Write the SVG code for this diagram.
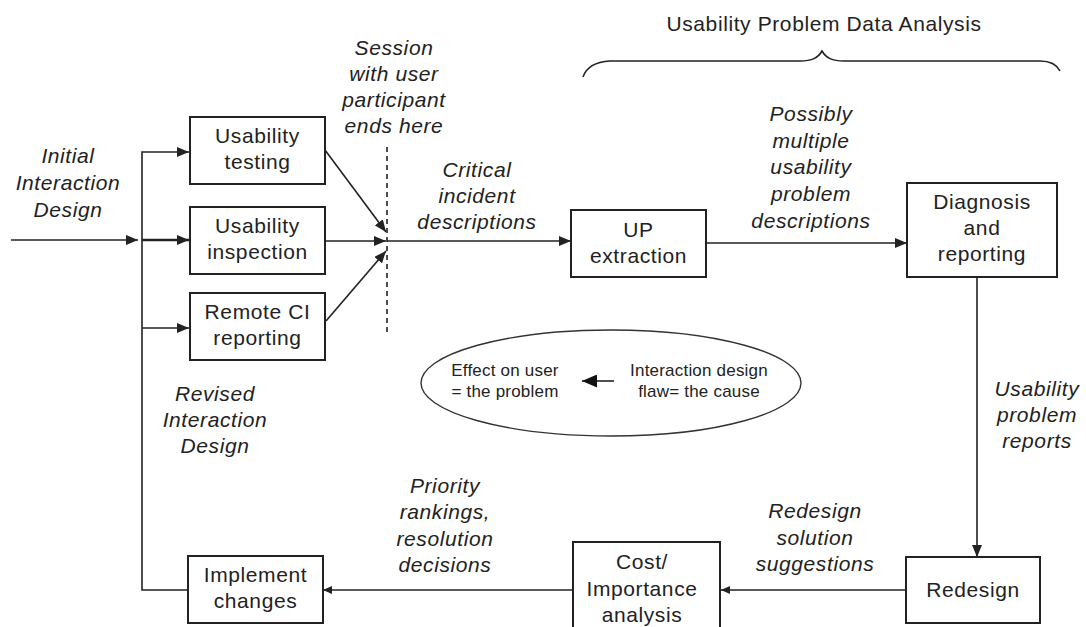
<svg xmlns="http://www.w3.org/2000/svg" width="1086" height="627" viewBox="0 0 1086 627">
  <style>
    .box { fill: #ffffff; stroke: #222222; stroke-width: 2; }
    .ln { fill: none; stroke: #222222; stroke-width: 1.6; }
    .thick { stroke-width: 2.6; }
    .dash { fill: none; stroke: #222222; stroke-width: 1.6; stroke-dasharray: 5 4; }
    .t { font-family: "Liberation Sans", Arial, sans-serif; font-size: 21px; fill: #222222; text-anchor: middle; letter-spacing: 0.6px; }
    .i { font-style: italic; }
    .s { font-size: 17px; letter-spacing: 0.2px; }
  </style>
  <defs>
    <marker id="ah" markerUnits="userSpaceOnUse" markerWidth="13" markerHeight="10" refX="12" refY="5" orient="auto">
      <path d="M0,0 L12,5 L0,10 Z" fill="#222222"/>
    </marker>
    <marker id="ahs" markerUnits="userSpaceOnUse" markerWidth="10" markerHeight="8" refX="9" refY="4" orient="auto">
      <path d="M0,0 L9,4 L0,8 Z" fill="#222222"/>
    </marker>
    <marker id="ahb" markerUnits="userSpaceOnUse" markerWidth="16" markerHeight="13" refX="15" refY="6.5" orient="auto">
      <path d="M0,0 L15,6.5 L0,13 Z" fill="#111111"/>
    </marker>
  </defs>

  <rect width="1086" height="627" fill="#ffffff"/>

  <!-- connectors -->
  <g id="connectors">
    <!-- incoming design and the feedback trunk -->
    <line class="ln" x1="11" y1="240" x2="138" y2="240" marker-end="url(#ah)"/>
    <path class="ln" d="M188,590 L142,590 L142,152 L189,152" marker-end="url(#ah)"/>
    <line class="ln thick" x1="142" y1="240" x2="189" y2="240" marker-end="url(#ah)"/>
    <line class="ln" x1="142" y1="328" x2="189" y2="328" marker-end="url(#ah)"/>
    <!-- evaluation methods converge at session end -->
    <line class="ln" x1="325" y1="150" x2="386" y2="232" marker-end="url(#ah)"/>
    <line class="ln" x1="325" y1="241" x2="386" y2="241" marker-end="url(#ah)"/>
    <line class="ln" x1="326" y1="321" x2="386" y2="251" marker-end="url(#ah)"/>
    <line class="dash" x1="387" y1="147" x2="387" y2="332"/>
    <!-- main analysis flow -->
    <line class="ln" x1="387" y1="241" x2="571" y2="241" marker-end="url(#ah)"/>
    <line class="ln" x1="706" y1="243" x2="907" y2="243" marker-end="url(#ah)"/>
    <line class="ln" x1="977" y1="277" x2="977" y2="557" marker-end="url(#ah)"/>
    <line class="ln" x1="906" y1="590" x2="721" y2="590" marker-end="url(#ahs)"/>
    <line class="ln" x1="573" y1="590" x2="323" y2="590" marker-end="url(#ahs)"/>
  </g>

  <!-- phase brace -->
  <g id="analysis-brace">
    <text class="t" x="824" y="31">Usability Problem Data Analysis</text>
    <path class="ln" d="M583,77 C586,68 594,62 610,61 L800,61 C812,61 818,58 822,51 C826,58 832,61 844,61 L1040,61 C1050,61 1057,65 1060,71"/>
  </g>

  <g id="usability-testing">
    <rect class="box" x="190" y="117" width="135" height="67"/>
    <text class="t" x="257.5" y="143">Usability</text>
    <text class="t" x="257.5" y="169">testing</text>
  </g>

  <g id="usability-inspection">
    <rect class="box" x="190" y="207" width="135" height="67"/>
    <text class="t" x="257.5" y="233">Usability</text>
    <text class="t" x="257.5" y="259">inspection</text>
  </g>

  <g id="remote-ci">
    <rect class="box" x="190" y="293" width="135" height="67"/>
    <text class="t" x="257.5" y="319">Remote CI</text>
    <text class="t" x="257.5" y="345">reporting</text>
  </g>

  <g id="up-extraction">
    <rect class="box" x="571" y="210" width="135" height="67"/>
    <text class="t" x="638.5" y="237">UP</text>
    <text class="t" x="638.5" y="263">extraction</text>
  </g>

  <g id="diagnosis">
    <rect class="box" x="907" y="183" width="150" height="94"/>
    <text class="t" x="982" y="209">Diagnosis</text>
    <text class="t" x="982" y="235">and</text>
    <text class="t" x="982" y="261">reporting</text>
  </g>

  <g id="redesign">
    <rect class="box" x="906" y="557" width="134" height="66"/>
    <text class="t" x="973" y="597">Redesign</text>
  </g>

  <g id="cost-importance">
    <rect class="box" x="573" y="542" width="147" height="90"/>
    <text class="t" x="642" y="569">Cost/</text>
    <text class="t" x="642" y="596">Importance</text>
    <text class="t" x="642" y="622">analysis</text>
  </g>

  <g id="implement-changes">
    <rect class="box" x="188" y="556" width="135" height="67"/>
    <text class="t" x="255.5" y="582">Implement</text>
    <text class="t" x="255.5" y="608">changes</text>
  </g>

  <!-- cause / effect note -->
  <g id="cause-effect">
    <ellipse cx="611" cy="383" rx="190" ry="53" fill="none" stroke="#333333" stroke-width="1.4"/>
    <text class="t s" x="505" y="376">Effect on user</text>
    <text class="t s" x="505" y="397">= the problem</text>
    <line class="ln" x1="614" y1="381" x2="582" y2="381" stroke-width="2" marker-end="url(#ahb)"/>
    <text class="t s" x="699" y="376">Interaction design</text>
    <text class="t s" x="699" y="397">flaw= the cause</text>
  </g>

  <!-- flow labels -->
  <g id="labels">
    <text class="t i" x="68" y="163">Initial</text>
    <text class="t i" x="68" y="190">Interaction</text>
    <text class="t i" x="68" y="217">Design</text>

    <text class="t i" x="394" y="55">Session</text>
    <text class="t i" x="394" y="81">with user</text>
    <text class="t i" x="394" y="107">participant</text>
    <text class="t i" x="394" y="133">ends here</text>

    <text class="t i" x="477" y="177">Critical</text>
    <text class="t i" x="477" y="203">incident</text>
    <text class="t i" x="477" y="229">descriptions</text>

    <text class="t i" x="811" y="121">Possibly</text>
    <text class="t i" x="811" y="148">multiple</text>
    <text class="t i" x="811" y="174">usability</text>
    <text class="t i" x="811" y="201">problem</text>
    <text class="t i" x="811" y="228">descriptions</text>

    <text class="t i" x="1037" y="396">Usability</text>
    <text class="t i" x="1037" y="422">problem</text>
    <text class="t i" x="1037" y="448">reports</text>

    <text class="t i" x="815" y="518">Redesign</text>
    <text class="t i" x="815" y="545">solution</text>
    <text class="t i" x="815" y="571">suggestions</text>

    <text class="t i" x="445" y="493">Priority</text>
    <text class="t i" x="445" y="519">rankings,</text>
    <text class="t i" x="445" y="546">resolution</text>
    <text class="t i" x="445" y="572">decisions</text>

    <text class="t i" x="215" y="401">Revised</text>
    <text class="t i" x="215" y="427">Interaction</text>
    <text class="t i" x="215" y="453">Design</text>
  </g>
</svg>
